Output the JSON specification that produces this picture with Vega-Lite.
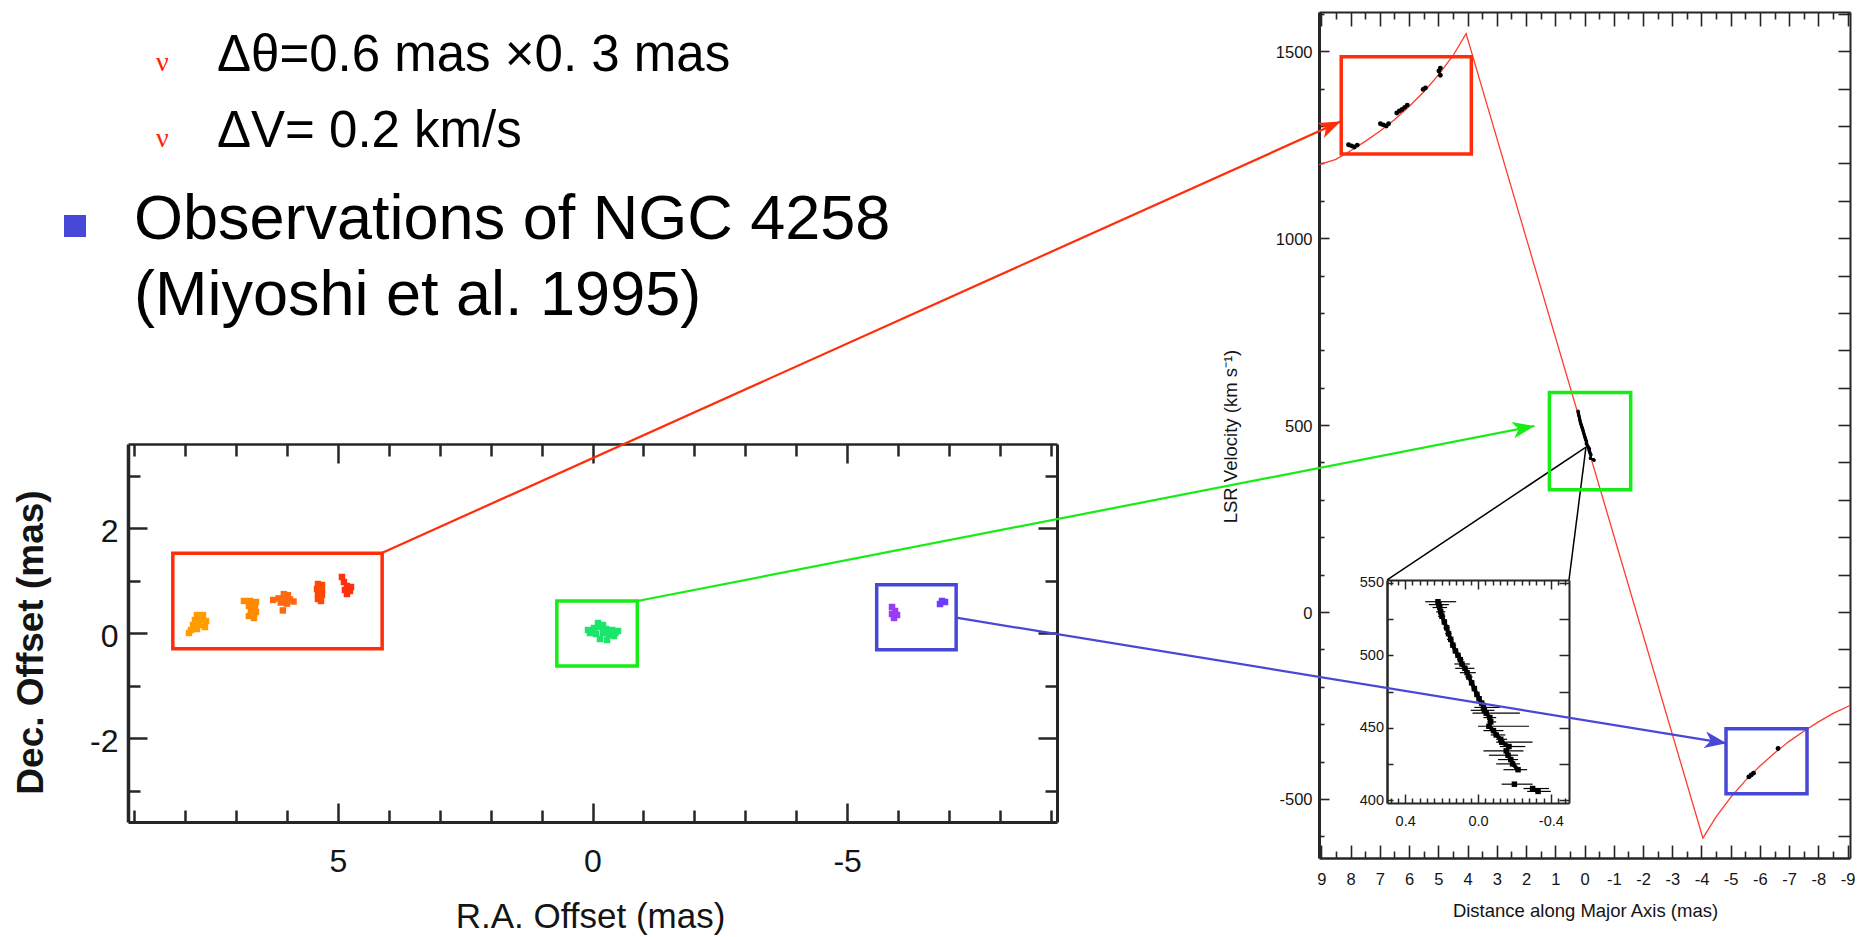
{
  "$schema": "https://vega.github.io/schema/vega-lite/v6.json",
  "width": 1863,
  "height": 937,
  "autosize": {"type": "none"},
  "padding": 0,
  "background": "white",
  "config": {
    "view": {"stroke": null},
    "axis": {"grid": false, "domainColor": "#262626", "tickColor": "#262626", "labelColor": "#141414", "titleColor": "#141414", "labelFont": "Liberation Sans", "titleFont": "Liberation Sans", "titleFontWeight": "normal", "labelFlush": false, "labelOverlap": false, "tickCap": "butt"},
    "text": {"font": "Liberation Sans"}
  },
  "resolve": {"scale": {"x": "independent", "y": "independent", "color": "independent"}, "axis": {"x": "independent", "y": "independent"}},
  "datasets": {
    "blobs": [
      {"feature": "r1", "ra": 7.766, "dec": 0.343}, {"feature": "r1", "ra": 7.648, "dec": 0.343}, {"feature": "r1", "ra": 7.805, "dec": 0.248}, {"feature": "r1", "ra": 7.687, "dec": 0.248}, {"feature": "r1", "ra": 7.589, "dec": 0.229}, {"feature": "r1", "ra": 7.844, "dec": 0.152}, {"feature": "r1", "ra": 7.726, "dec": 0.152}, {"feature": "r1", "ra": 7.609, "dec": 0.114}, {"feature": "r1", "ra": 7.884, "dec": 0.057}, {"feature": "r1", "ra": 7.766, "dec": 0.076}, {"feature": "r1", "ra": 7.923, "dec": 0.0},
      {"feature": "r2", "ra": 6.843, "dec": 0.61}, {"feature": "r2", "ra": 6.725, "dec": 0.61}, {"feature": "r2", "ra": 6.607, "dec": 0.59}, {"feature": "r2", "ra": 6.745, "dec": 0.514}, {"feature": "r2", "ra": 6.627, "dec": 0.495}, {"feature": "r2", "ra": 6.705, "dec": 0.419}, {"feature": "r2", "ra": 6.607, "dec": 0.4}, {"feature": "r2", "ra": 6.745, "dec": 0.324}, {"feature": "r2", "ra": 6.646, "dec": 0.286},
      {"feature": "r3", "ra": 6.27, "dec": 0.63}, {"feature": "r3", "ra": 6.16, "dec": 0.66}, {"feature": "r3", "ra": 6.06, "dec": 0.74}, {"feature": "r3", "ra": 5.98, "dec": 0.72}, {"feature": "r3", "ra": 6.05, "dec": 0.63}, {"feature": "r3", "ra": 5.94, "dec": 0.64}, {"feature": "r3", "ra": 5.87, "dec": 0.6}, {"feature": "r3", "ra": 6.12, "dec": 0.58}, {"feature": "r3", "ra": 6.0, "dec": 0.56}, {"feature": "r3", "ra": 6.08, "dec": 0.43},
      {"feature": "r4", "ra": 5.39, "dec": 0.933}, {"feature": "r4", "ra": 5.311, "dec": 0.914}, {"feature": "r4", "ra": 5.409, "dec": 0.838}, {"feature": "r4", "ra": 5.311, "dec": 0.819}, {"feature": "r4", "ra": 5.39, "dec": 0.743}, {"feature": "r4", "ra": 5.311, "dec": 0.724}, {"feature": "r4", "ra": 5.39, "dec": 0.648}, {"feature": "r4", "ra": 5.331, "dec": 0.61},
      {"feature": "r5", "ra": 4.919, "dec": 1.067}, {"feature": "r5", "ra": 4.88, "dec": 0.971}, {"feature": "r5", "ra": 4.821, "dec": 0.895}, {"feature": "r5", "ra": 4.742, "dec": 0.876}, {"feature": "r5", "ra": 4.86, "dec": 0.819}, {"feature": "r5", "ra": 4.762, "dec": 0.8}, {"feature": "r5", "ra": 4.821, "dec": 0.743},
      {"feature": "s", "ra": 0.088, "dec": 0.057}, {"feature": "s", "ra": -0.029, "dec": 0.095}, {"feature": "s", "ra": -0.147, "dec": 0.114}, {"feature": "s", "ra": -0.265, "dec": 0.076}, {"feature": "s", "ra": -0.383, "dec": 0.057}, {"feature": "s", "ra": -0.501, "dec": 0.038}, {"feature": "s", "ra": -0.069, "dec": -0.019}, {"feature": "s", "ra": -0.206, "dec": 0.0}, {"feature": "s", "ra": -0.324, "dec": -0.038}, {"feature": "s", "ra": -0.422, "dec": -0.057}, {"feature": "s", "ra": -0.147, "dec": -0.114}, {"feature": "s", "ra": -0.285, "dec": -0.133}, {"feature": "s", "ra": -0.108, "dec": 0.19}, {"feature": "s", "ra": -0.206, "dec": 0.152}, {"feature": "s", "ra": 0.05, "dec": 0.0}, {"feature": "s", "ra": -0.45, "dec": 0.0},
      {"feature": "b1", "ra": -5.881, "dec": 0.495}, {"feature": "b1", "ra": -5.94, "dec": 0.419}, {"feature": "b1", "ra": -5.881, "dec": 0.362}, {"feature": "b1", "ra": -5.979, "dec": 0.343}, {"feature": "b1", "ra": -5.92, "dec": 0.286},
      {"feature": "b2", "ra": -6.862, "dec": 0.61}, {"feature": "b2", "ra": -6.921, "dec": 0.59}, {"feature": "b2", "ra": -6.823, "dec": 0.552}
    ],
    "lboxes": [
      {"box": "redshifted", "x1": 4.13, "x2": 8.24, "y1": -0.3, "y2": 1.52},
      {"box": "systemic", "x1": -0.88, "x2": 0.7, "y1": -0.63, "y2": 0.61},
      {"box": "blueshifted", "x1": -7.14, "x2": -5.58, "y1": -0.32, "y2": 0.92}
    ],
    "rboxes": [
      {"box": "redshifted", "x1": 3.87, "x2": 8.32, "v1": 1225, "v2": 1485},
      {"box": "systemic", "x1": -1.58, "x2": 1.2, "v1": 327, "v2": 587},
      {"box": "blueshifted", "x1": -7.61, "x2": -4.84, "v1": -486, "v2": -312}
    ],
    "arrows": [
      {"box": "redshifted", "x1": 41.13, "v1": 158, "x2": 8.34, "v2": 1312},
      {"box": "systemic", "x1": 32.39, "v1": 29.5, "x2": 1.713, "v2": 497.6},
      {"box": "blueshifted", "x1": 21.49, "v1": -15.2, "x2": -4.86, "v2": -351.2}
    ],
    "links": [
      {"x1": 6.75, "v1": 86, "x2": -0.05, "v2": 441},
      {"x1": 0.53, "v1": 86, "x2": -0.05, "v2": 441}
    ],
    "curve": [
      {"r": 9.08, "v": 1197}, {"r": 8.5, "v": 1211}, {"r": 8.0, "v": 1234}, {"r": 7.5, "v": 1259}, {"r": 7.0, "v": 1286}, {"r": 6.5, "v": 1317}, {"r": 6.0, "v": 1352}, {"r": 5.5, "v": 1391}, {"r": 5.0, "v": 1436}, {"r": 4.5, "v": 1488}, {"r": 4.05, "v": 1547},
      {"r": -4.05, "v": -605}, {"r": -4.5, "v": -548}, {"r": -5.0, "v": -496}, {"r": -5.5, "v": -451}, {"r": -6.0, "v": -412}, {"r": -6.5, "v": -377}, {"r": -7.0, "v": -346}, {"r": -7.5, "v": -319}, {"r": -8.0, "v": -294}, {"r": -8.5, "v": -271}, {"r": -9.08, "v": -250}
    ],
    "hv": [
      {"r": 8.07, "v": 1250}, {"r": 7.97, "v": 1247}, {"r": 7.87, "v": 1244}, {"r": 7.77, "v": 1249},
      {"r": 6.98, "v": 1306}, {"r": 6.88, "v": 1303}, {"r": 6.78, "v": 1300}, {"r": 6.7, "v": 1306},
      {"r": 6.42, "v": 1335}, {"r": 6.33, "v": 1340}, {"r": 6.24, "v": 1344}, {"r": 6.15, "v": 1350}, {"r": 6.06, "v": 1356},
      {"r": 5.52, "v": 1398}, {"r": 5.44, "v": 1402},
      {"r": 4.98, "v": 1447}, {"r": 4.93, "v": 1455}, {"r": 4.93, "v": 1436},
      {"r": -5.62, "v": -441}, {"r": -5.7, "v": -436}, {"r": -5.78, "v": -431}, {"r": -6.62, "v": -365}
    ],
    "sys": [
      {"seg": "a", "v": 537, "x": 0.22, "lo": 0.29, "hi": 0.12},
      {"seg": "a", "v": 535, "x": 0.215, "lo": 0.27, "hi": 0.16},
      {"seg": "a", "v": 533, "x": 0.21, "lo": 0.25, "hi": 0.17},
      {"seg": "a", "v": 530, "x": 0.205, "lo": 0.23, "hi": 0.18},
      {"seg": "a", "v": 527, "x": 0.198, "lo": 0.22, "hi": 0.18},
      {"seg": "a", "v": 523, "x": 0.185, "lo": 0.2, "hi": 0.17},
      {"seg": "a", "v": 519, "x": 0.172, "lo": 0.19, "hi": 0.155},
      {"seg": "a", "v": 515, "x": 0.162, "lo": 0.18, "hi": 0.145},
      {"seg": "a", "v": 511, "x": 0.15, "lo": 0.17, "hi": 0.135},
      {"seg": "a", "v": 507, "x": 0.138, "lo": 0.155, "hi": 0.12},
      {"seg": "a", "v": 503, "x": 0.124, "lo": 0.14, "hi": 0.108},
      {"seg": "a", "v": 500, "x": 0.11, "lo": 0.125, "hi": 0.095},
      {"seg": "a", "v": 497, "x": 0.097, "lo": 0.115, "hi": 0.08},
      {"seg": "a", "v": 494, "x": 0.088, "lo": 0.13, "hi": 0.045},
      {"seg": "a", "v": 491, "x": 0.072, "lo": 0.125, "hi": 0.02},
      {"seg": "a", "v": 488, "x": 0.06, "lo": 0.1, "hi": 0.012},
      {"seg": "a", "v": 485, "x": 0.05, "lo": 0.07, "hi": 0.03},
      {"seg": "a", "v": 481, "x": 0.035, "lo": 0.05, "hi": 0.02},
      {"seg": "a", "v": 477, "x": 0.02, "lo": 0.035, "hi": 0.005},
      {"seg": "a", "v": 473, "x": 0.006, "lo": 0.02, "hi": -0.008},
      {"seg": "a", "v": 470, "x": -0.006, "lo": 0.008, "hi": -0.02},
      {"seg": "a", "v": 467, "x": -0.02, "lo": 0.0, "hi": -0.04},
      {"seg": "a", "v": 464, "x": -0.03, "lo": 0.02, "hi": -0.12},
      {"seg": "a", "v": 462, "x": -0.035, "lo": 0.04, "hi": -0.09},
      {"seg": "a", "v": 460, "x": -0.045, "lo": 0.03, "hi": -0.23},
      {"seg": "a", "v": 457, "x": -0.065, "lo": -0.03, "hi": -0.1},
      {"seg": "a", "v": 454, "x": -0.07, "lo": -0.05, "hi": -0.1},
      {"seg": "a", "v": 451, "x": -0.06, "lo": 0.0, "hi": -0.28},
      {"seg": "a", "v": 448, "x": -0.085, "lo": -0.03, "hi": -0.14},
      {"seg": "a", "v": 445, "x": -0.1, "lo": -0.07, "hi": -0.15},
      {"seg": "a", "v": 442, "x": -0.125, "lo": -0.1, "hi": -0.16},
      {"seg": "a", "v": 440, "x": -0.13, "lo": -0.1, "hi": -0.3},
      {"seg": "a", "v": 437, "x": -0.17, "lo": -0.12, "hi": -0.26},
      {"seg": "a", "v": 434, "x": -0.155, "lo": -0.03, "hi": -0.25},
      {"seg": "a", "v": 431, "x": -0.165, "lo": -0.06, "hi": -0.22},
      {"seg": "a", "v": 428, "x": -0.18, "lo": -0.11, "hi": -0.22},
      {"seg": "a", "v": 425, "x": -0.19, "lo": -0.1, "hi": -0.23},
      {"seg": "a", "v": 421, "x": -0.22, "lo": -0.14, "hi": -0.27},
      {"seg": "b", "v": 411, "x": -0.2, "lo": -0.13, "hi": -0.3},
      {"seg": "c", "v": 408, "x": -0.3, "lo": -0.25, "hi": -0.39},
      {"seg": "c", "v": 406, "x": -0.33, "lo": -0.27, "hi": -0.4}
    ]
  },
  "layer": [
    {"data": {"values": [{}]}, "mark": {"type": "text", "text": "ν", "align": "left", "baseline": "alphabetic", "fontSize": 28, "font": "Liberation Serif", "color": "#ff2200"},
     "encoding": {"x": {"datum": 8.571, "type": "quantitative", "scale": {"domain": [-9.12, 9.12], "range": [1057, 128], "nice": false, "zero": false}, "axis": null}, "y": {"datum": 10.705, "type": "quantitative", "scale": {"domain": [-3.6, 3.6], "range": [822, 444], "nice": false, "zero": false}, "axis": null}}},
    {"data": {"values": [{}]}, "mark": {"type": "text", "text": "Δθ=0.6 mas ×0. 3 mas", "align": "left", "baseline": "alphabetic", "fontSize": 51, "color": "#000000"},
     "encoding": {"x": {"datum": 7.373, "type": "quantitative", "scale": {"domain": [-9.12, 9.12], "range": [1057, 128], "nice": false, "zero": false}, "axis": null}, "y": {"datum": 10.71, "type": "quantitative", "scale": {"domain": [-3.6, 3.6], "range": [822, 444], "nice": false, "zero": false}, "axis": null}}},
    {"data": {"values": [{}]}, "mark": {"type": "text", "text": "ν", "align": "left", "baseline": "alphabetic", "fontSize": 28, "font": "Liberation Serif", "color": "#ff2200"},
     "encoding": {"x": {"datum": 8.571, "type": "quantitative", "scale": {"domain": [-9.12, 9.12], "range": [1057, 128], "nice": false, "zero": false}, "axis": null}, "y": {"datum": 9.257, "type": "quantitative", "scale": {"domain": [-3.6, 3.6], "range": [822, 444], "nice": false, "zero": false}, "axis": null}}},
    {"data": {"values": [{}]}, "mark": {"type": "text", "text": "ΔV= 0.2 km/s", "align": "left", "baseline": "alphabetic", "fontSize": 51, "color": "#000000"},
     "encoding": {"x": {"datum": 7.373, "type": "quantitative", "scale": {"domain": [-9.12, 9.12], "range": [1057, 128], "nice": false, "zero": false}, "axis": null}, "y": {"datum": 9.263, "type": "quantitative", "scale": {"domain": [-3.6, 3.6], "range": [822, 444], "nice": false, "zero": false}, "axis": null}}},
    {"data": {"values": [{}]}, "mark": {"type": "point", "shape": "square", "size": 484, "filled": true, "opacity": 1, "color": "#4747d8", "strokeWidth": 0},
     "encoding": {"x": {"datum": 10.161, "type": "quantitative", "scale": {"domain": [-9.12, 9.12], "range": [1057, 128], "nice": false, "zero": false}, "axis": null}, "y": {"datum": 7.752, "type": "quantitative", "scale": {"domain": [-3.6, 3.6], "range": [822, 444], "nice": false, "zero": false}, "axis": null}}},
    {"data": {"values": [{}]}, "mark": {"type": "text", "text": "Observations of NGC 4258", "align": "left", "baseline": "alphabetic", "fontSize": 63, "color": "#000000"},
     "encoding": {"x": {"datum": 9.003, "type": "quantitative", "scale": {"domain": [-9.12, 9.12], "range": [1057, 128], "nice": false, "zero": false}, "axis": null}, "y": {"datum": 7.499, "type": "quantitative", "scale": {"domain": [-3.6, 3.6], "range": [822, 444], "nice": false, "zero": false}, "axis": null}}},
    {"data": {"values": [{}]}, "mark": {"type": "text", "text": "(Miyoshi et al. 1995)", "align": "left", "baseline": "alphabetic", "fontSize": 63, "color": "#000000"},
     "encoding": {"x": {"datum": 9.003, "type": "quantitative", "scale": {"domain": [-9.12, 9.12], "range": [1057, 128], "nice": false, "zero": false}, "axis": null}, "y": {"datum": 6.057, "type": "quantitative", "scale": {"domain": [-3.6, 3.6], "range": [822, 444], "nice": false, "zero": false}, "axis": null}}},

    {"data": {"name": "blobs"}, "mark": {"type": "point", "shape": "square", "size": 42, "filled": true, "opacity": 1, "strokeWidth": 0},
     "encoding": {"x": {"field": "ra", "type": "quantitative", "scale": {"domain": [-9.12, 9.12], "range": [1057, 128], "nice": false, "zero": false}, "axis": null}, "y": {"field": "dec", "type": "quantitative", "scale": {"domain": [-3.6, 3.6], "range": [822, 444], "nice": false, "zero": false}, "axis": null},
      "color": {"field": "feature", "type": "nominal", "scale": {"domain": ["r1", "r2", "r3", "r4", "r5", "s", "b1", "b2"], "range": ["#ff9d00", "#ff8a00", "#ff6a10", "#ff4800", "#ff3010", "#19e66b", "#9b3cf5", "#6f3cff"]}, "legend": null}}},
    {"data": {"name": "lboxes"}, "mark": {"type": "rect", "filled": false, "strokeWidth": 3.5},
     "encoding": {"x": {"field": "x1", "type": "quantitative", "scale": {"domain": [-9.12, 9.12], "range": [1057, 128], "nice": false, "zero": false}, "axis": null}, "x2": {"field": "x2"}, "y": {"field": "y1", "type": "quantitative", "scale": {"domain": [-3.6, 3.6], "range": [822, 444], "nice": false, "zero": false}, "axis": null}, "y2": {"field": "y2"},
      "color": {"field": "box", "type": "nominal", "scale": {"domain": ["redshifted", "systemic", "blueshifted"], "range": ["#ff2d0a", "#16ec16", "#4848d6"]}, "legend": null}}},

    {"data": {"values": [{}]}, "mark": {"type": "point", "opacity": 0},
     "encoding": {"x": {"datum": 0, "type": "quantitative", "scale": {"domain": [-9.12, 9.12], "range": [1057, 128], "nice": false, "zero": false}, "axis": {"orient": "bottom", "offset": -115, "values": [-5, 0, 5], "tickSize": -19, "tickWidth": 2.5, "labels": false, "domain": true, "domainWidth": 3, "title": null}}, "y": {"datum": 0, "type": "quantitative", "scale": {"domain": [-3.6, 3.6], "range": [822, 444], "nice": false, "zero": false}, "axis": null}}},
    {"data": {"values": [{}]}, "mark": {"type": "point", "opacity": 0},
     "encoding": {"x": {"datum": 0, "type": "quantitative", "scale": {"domain": [-9.12, 9.12], "range": [1057, 128], "nice": false, "zero": false}, "axis": {"orient": "bottom", "offset": -115, "values": [-9, -8, -7, -6, -4, -3, -2, -1, 1, 2, 3, 4, 6, 7, 8, 9], "tickSize": -12, "tickWidth": 2.5, "labels": false, "domain": false, "title": null}}, "y": {"datum": 0, "type": "quantitative", "scale": {"domain": [-3.6, 3.6], "range": [822, 444], "nice": false, "zero": false}, "axis": null}}},
    {"data": {"values": [{}]}, "mark": {"type": "point", "opacity": 0},
     "encoding": {"x": {"datum": 0, "type": "quantitative", "scale": {"domain": [-9.12, 9.12], "range": [1057, 128], "nice": false, "zero": false}, "axis": {"orient": "bottom", "offset": -115, "values": [-5, 0, 5], "ticks": false, "domain": false, "labelPadding": 24, "labelFontSize": 32, "labelExpr": "toString(datum.value)", "title": "R.A. Offset (mas)", "titleFontSize": 35, "titleX": 590, "titleY": 105, "titleBaseline": "alphabetic", "titleAlign": "center"}}, "y": {"datum": 0, "type": "quantitative", "scale": {"domain": [-3.6, 3.6], "range": [822, 444], "nice": false, "zero": false}, "axis": null}}},
    {"data": {"values": [{}]}, "mark": {"type": "point", "opacity": 0},
     "encoding": {"x": {"datum": 0, "type": "quantitative", "scale": {"domain": [-9.12, 9.12], "range": [1057, 128], "nice": false, "zero": false}, "axis": {"orient": "top", "offset": -444, "values": [-5, 0, 5], "tickSize": -19, "tickWidth": 2.5, "labels": false, "domain": true, "domainWidth": 2.5, "title": null}}, "y": {"datum": 0, "type": "quantitative", "scale": {"domain": [-3.6, 3.6], "range": [822, 444], "nice": false, "zero": false}, "axis": null}}},
    {"data": {"values": [{}]}, "mark": {"type": "point", "opacity": 0},
     "encoding": {"x": {"datum": 0, "type": "quantitative", "scale": {"domain": [-9.12, 9.12], "range": [1057, 128], "nice": false, "zero": false}, "axis": {"orient": "top", "offset": -444, "values": [-9, -8, -7, -6, -4, -3, -2, -1, 1, 2, 3, 4, 6, 7, 8, 9], "tickSize": -12, "tickWidth": 2.5, "labels": false, "domain": false, "title": null}}, "y": {"datum": 0, "type": "quantitative", "scale": {"domain": [-3.6, 3.6], "range": [822, 444], "nice": false, "zero": false}, "axis": null}}},
    {"data": {"values": [{}]}, "mark": {"type": "point", "opacity": 0},
     "encoding": {"x": {"datum": 0, "type": "quantitative", "scale": {"domain": [-9.12, 9.12], "range": [1057, 128], "nice": false, "zero": false}, "axis": null}, "y": {"datum": 0, "type": "quantitative", "scale": {"domain": [-3.6, 3.6], "range": [822, 444], "nice": false, "zero": false}, "axis": {"orient": "left", "offset": -128, "values": [-2, 0, 2], "tickSize": -19, "tickWidth": 2.5, "labels": false, "domain": true, "domainWidth": 3.5, "title": null}}}},
    {"data": {"values": [{}]}, "mark": {"type": "point", "opacity": 0},
     "encoding": {"x": {"datum": 0, "type": "quantitative", "scale": {"domain": [-9.12, 9.12], "range": [1057, 128], "nice": false, "zero": false}, "axis": null}, "y": {"datum": 0, "type": "quantitative", "scale": {"domain": [-3.6, 3.6], "range": [822, 444], "nice": false, "zero": false}, "axis": {"orient": "left", "offset": -128, "values": [-3, -1, 1, 3], "tickSize": -12, "tickWidth": 2.5, "labels": false, "domain": false, "title": null}}}},
    {"data": {"values": [{}]}, "mark": {"type": "point", "opacity": 0},
     "encoding": {"x": {"datum": 0, "type": "quantitative", "scale": {"domain": [-9.12, 9.12], "range": [1057, 128], "nice": false, "zero": false}, "axis": null}, "y": {"datum": 0, "type": "quantitative", "scale": {"domain": [-3.6, 3.6], "range": [822, 444], "nice": false, "zero": false}, "axis": {"orient": "left", "offset": -128, "values": [-2, 0, 2], "ticks": false, "domain": false, "labelPadding": 10, "labelFontSize": 32, "labelOffset": 3, "labelExpr": "toString(datum.value)", "title": "Dec. Offset (mas)", "titleFontSize": 37, "titleFontWeight": "bold", "titleX": -97, "titleY": 642, "titleAngle": 270, "titleBaseline": "middle", "titleAlign": "center"}}}},
    {"data": {"values": [{}]}, "mark": {"type": "point", "opacity": 0},
     "encoding": {"x": {"datum": 0, "type": "quantitative", "scale": {"domain": [-9.12, 9.12], "range": [1057, 128], "nice": false, "zero": false}, "axis": null}, "y": {"datum": 0, "type": "quantitative", "scale": {"domain": [-3.6, 3.6], "range": [822, 444], "nice": false, "zero": false}, "axis": {"orient": "right", "offset": -806, "values": [-2, 0, 2], "tickSize": -19, "tickWidth": 2.5, "labels": false, "domain": true, "domainWidth": 3, "title": null}}}},
    {"data": {"values": [{}]}, "mark": {"type": "point", "opacity": 0},
     "encoding": {"x": {"datum": 0, "type": "quantitative", "scale": {"domain": [-9.12, 9.12], "range": [1057, 128], "nice": false, "zero": false}, "axis": null}, "y": {"datum": 0, "type": "quantitative", "scale": {"domain": [-3.6, 3.6], "range": [822, 444], "nice": false, "zero": false}, "axis": {"orient": "right", "offset": -806, "values": [-3, -1, 1, 3], "tickSize": -12, "tickWidth": 2.5, "labels": false, "domain": false, "title": null}}}},

    {"data": {"name": "curve"}, "mark": {"type": "line", "color": "#ff3b2b", "strokeWidth": 1.3},
     "encoding": {"x": {"field": "r", "type": "quantitative", "scale": {"domain": [-9.08, 9.08], "range": [1850, 1319], "nice": false, "zero": false}, "axis": null}, "y": {"field": "v", "type": "quantitative", "scale": {"domain": [-658, 1605], "range": [858, 12], "nice": false, "zero": false}, "axis": null}}},
    {"data": {"name": "hv"}, "mark": {"type": "point", "shape": "circle", "size": 24, "filled": true, "opacity": 1, "color": "#000000", "strokeWidth": 0},
     "encoding": {"x": {"field": "r", "type": "quantitative", "scale": {"domain": [-9.08, 9.08], "range": [1850, 1319], "nice": false, "zero": false}, "axis": null}, "y": {"field": "v", "type": "quantitative", "scale": {"domain": [-658, 1605], "range": [858, 12], "nice": false, "zero": false}, "axis": null}}},
    {"data": {"name": "sys"}, "mark": {"type": "line", "color": "#000000", "strokeWidth": 2.5},
     "encoding": {"x": {"field": "x", "type": "quantitative", "scale": {"domain": [-9.08, 9.08], "range": [1850, 1319], "nice": false, "zero": false}, "axis": null}, "y": {"field": "v", "type": "quantitative", "scale": {"domain": [-658, 1605], "range": [858, 12], "nice": false, "zero": false}, "axis": null}, "order": {"field": "v", "type": "quantitative"}}},
    {"data": {"name": "sys"}, "mark": {"type": "point", "shape": "circle", "size": 12, "filled": true, "opacity": 1, "color": "#000000", "strokeWidth": 0},
     "encoding": {"x": {"field": "x", "type": "quantitative", "scale": {"domain": [-9.08, 9.08], "range": [1850, 1319], "nice": false, "zero": false}, "axis": null}, "y": {"field": "v", "type": "quantitative", "scale": {"domain": [-658, 1605], "range": [858, 12], "nice": false, "zero": false}, "axis": null}}},
    {"data": {"name": "links"}, "mark": {"type": "rule", "color": "#000000", "strokeWidth": 1.5},
     "encoding": {"x": {"field": "x1", "type": "quantitative", "scale": {"domain": [-9.08, 9.08], "range": [1850, 1319], "nice": false, "zero": false}, "axis": null}, "x2": {"field": "x2"}, "y": {"field": "v1", "type": "quantitative", "scale": {"domain": [-658, 1605], "range": [858, 12], "nice": false, "zero": false}, "axis": null}, "y2": {"field": "v2"}}},
    {"data": {"name": "rboxes"}, "mark": {"type": "rect", "filled": false, "strokeWidth": 3.5},
     "encoding": {"x": {"field": "x1", "type": "quantitative", "scale": {"domain": [-9.08, 9.08], "range": [1850, 1319], "nice": false, "zero": false}, "axis": null}, "x2": {"field": "x2"}, "y": {"field": "v1", "type": "quantitative", "scale": {"domain": [-658, 1605], "range": [858, 12], "nice": false, "zero": false}, "axis": null}, "y2": {"field": "v2"},
      "color": {"field": "box", "type": "nominal", "scale": {"domain": ["redshifted", "systemic", "blueshifted"], "range": ["#ff2d0a", "#16ec16", "#4848d6"]}, "legend": null}}},

    {"data": {"values": [{}]}, "mark": {"type": "point", "opacity": 0},
     "encoding": {"x": {"datum": 0, "type": "quantitative", "scale": {"domain": [-9.08, 9.08], "range": [1850, 1319], "nice": false, "zero": false}, "axis": {"orient": "bottom", "offset": -79, "values": [-9, -8, -7, -6, -5, -4, -3, -2, -1, 0, 1, 2, 3, 4, 5, 6, 7, 8, 9], "tickSize": -13, "tickWidth": 1.6, "labels": false, "domain": true, "domainWidth": 2.5, "title": null}}, "y": {"datum": 0, "type": "quantitative", "scale": {"domain": [-658, 1605], "range": [858, 12], "nice": false, "zero": false}, "axis": null}}},
    {"data": {"values": [{}]}, "mark": {"type": "point", "opacity": 0},
     "encoding": {"x": {"datum": 0, "type": "quantitative", "scale": {"domain": [-9.08, 9.08], "range": [1850, 1319], "nice": false, "zero": false}, "axis": {"orient": "bottom", "offset": -79, "values": [-8.5, -7.5, -6.5, -5.5, -4.5, -3.5, -2.5, -1.5, -0.5, 0.5, 1.5, 2.5, 3.5, 4.5, 5.5, 6.5, 7.5, 8.5], "tickSize": -7, "tickWidth": 1.6, "labels": false, "domain": false, "title": null}}, "y": {"datum": 0, "type": "quantitative", "scale": {"domain": [-658, 1605], "range": [858, 12], "nice": false, "zero": false}, "axis": null}}},
    {"data": {"values": [{}]}, "mark": {"type": "point", "opacity": 0},
     "encoding": {"x": {"datum": 0, "type": "quantitative", "scale": {"domain": [-9.08, 9.08], "range": [1850, 1319], "nice": false, "zero": false}, "axis": {"orient": "bottom", "offset": -79, "values": [-9, -8, -7, -6, -5, -4, -3, -2, -1, 0, 1, 2, 3, 4, 5, 6, 7, 8, 9], "ticks": false, "domain": false, "labelPadding": 13, "labelFontSize": 16.5, "labelExpr": "toString(datum.value)", "title": "Distance along Major Axis (mas)", "titleFontSize": 18.5, "titleX": 1585, "titleY": 58, "titleBaseline": "alphabetic", "titleAlign": "center"}}, "y": {"datum": 0, "type": "quantitative", "scale": {"domain": [-658, 1605], "range": [858, 12], "nice": false, "zero": false}, "axis": null}}},
    {"data": {"values": [{}]}, "mark": {"type": "point", "opacity": 0},
     "encoding": {"x": {"datum": 0, "type": "quantitative", "scale": {"domain": [-9.08, 9.08], "range": [1850, 1319], "nice": false, "zero": false}, "axis": {"orient": "top", "offset": -12, "values": [-9, -8, -7, -6, -5, -4, -3, -2, -1, 0, 1, 2, 3, 4, 5, 6, 7, 8, 9], "tickSize": -14, "tickWidth": 1.6, "labels": false, "domain": true, "domainWidth": 2, "title": null}}, "y": {"datum": 0, "type": "quantitative", "scale": {"domain": [-658, 1605], "range": [858, 12], "nice": false, "zero": false}, "axis": null}}},
    {"data": {"values": [{}]}, "mark": {"type": "point", "opacity": 0},
     "encoding": {"x": {"datum": 0, "type": "quantitative", "scale": {"domain": [-9.08, 9.08], "range": [1850, 1319], "nice": false, "zero": false}, "axis": {"orient": "top", "offset": -12, "values": [-8.5, -7.5, -6.5, -5.5, -4.5, -3.5, -2.5, -1.5, -0.5, 0.5, 1.5, 2.5, 3.5, 4.5, 5.5, 6.5, 7.5, 8.5], "tickSize": -7, "tickWidth": 1.6, "labels": false, "domain": false, "title": null}}, "y": {"datum": 0, "type": "quantitative", "scale": {"domain": [-658, 1605], "range": [858, 12], "nice": false, "zero": false}, "axis": null}}},
    {"data": {"values": [{}]}, "mark": {"type": "point", "opacity": 0},
     "encoding": {"x": {"datum": 0, "type": "quantitative", "scale": {"domain": [-9.08, 9.08], "range": [1850, 1319], "nice": false, "zero": false}, "axis": null}, "y": {"datum": 0, "type": "quantitative", "scale": {"domain": [-658, 1605], "range": [858, 12], "nice": false, "zero": false}, "axis": {"orient": "left", "offset": -1319, "values": [-500, 0, 500, 1000, 1500], "tickSize": -10, "tickWidth": 1.6, "labels": false, "domain": true, "domainWidth": 3, "title": null}}}},
    {"data": {"values": [{}]}, "mark": {"type": "point", "opacity": 0},
     "encoding": {"x": {"datum": 0, "type": "quantitative", "scale": {"domain": [-9.08, 9.08], "range": [1850, 1319], "nice": false, "zero": false}, "axis": null}, "y": {"datum": 0, "type": "quantitative", "scale": {"domain": [-658, 1605], "range": [858, 12], "nice": false, "zero": false}, "axis": {"orient": "left", "offset": -1319, "values": [-600, -400, -300, -200, -100, 100, 200, 300, 400, 600, 700, 800, 900, 1100, 1200, 1300, 1400, 1600], "tickSize": -5, "tickWidth": 1.6, "labels": false, "domain": false, "title": null}}}},
    {"data": {"values": [{}]}, "mark": {"type": "point", "opacity": 0},
     "encoding": {"x": {"datum": 0, "type": "quantitative", "scale": {"domain": [-9.08, 9.08], "range": [1850, 1319], "nice": false, "zero": false}, "axis": null}, "y": {"datum": 0, "type": "quantitative", "scale": {"domain": [-658, 1605], "range": [858, 12], "nice": false, "zero": false}, "axis": {"orient": "left", "offset": -1319, "values": [-500, 0, 500, 1000, 1500], "ticks": false, "domain": false, "labelPadding": 7, "labelFontSize": 16.5, "labelOffset": 1, "labelExpr": "toString(datum.value)", "title": "LSR Velocity (km s⁻¹)", "titleFontSize": 18.5, "titleX": -89, "titleY": 436, "titleAngle": 270, "titleBaseline": "middle", "titleAlign": "center"}}}},
    {"data": {"values": [{}]}, "mark": {"type": "point", "opacity": 0},
     "encoding": {"x": {"datum": 0, "type": "quantitative", "scale": {"domain": [-9.08, 9.08], "range": [1850, 1319], "nice": false, "zero": false}, "axis": null}, "y": {"datum": 0, "type": "quantitative", "scale": {"domain": [-658, 1605], "range": [858, 12], "nice": false, "zero": false}, "axis": {"orient": "right", "offset": -13, "values": [-600, -500, -400, -300, -200, -100, 0, 100, 200, 300, 400, 500, 600, 700, 800, 900, 1000, 1100, 1200, 1300, 1400, 1500, 1600], "tickSize": -12, "tickWidth": 1.6, "labels": false, "domain": true, "domainWidth": 2, "title": null}}}},

    {"data": {"name": "sys"}, "mark": {"type": "rule", "color": "#000000", "strokeWidth": 1.2},
     "encoding": {"x": {"field": "lo", "type": "quantitative", "scale": {"domain": [-0.5, 0.5], "range": [1569, 1387], "nice": false, "zero": false}, "axis": null}, "x2": {"field": "hi"}, "y": {"field": "v", "type": "quantitative", "scale": {"domain": [398, 552], "range": [803, 580], "nice": false, "zero": false}, "axis": null}}},
    {"data": {"name": "sys"}, "mark": {"type": "line", "color": "#000000", "strokeWidth": 4},
     "encoding": {"x": {"field": "x", "type": "quantitative", "scale": {"domain": [-0.5, 0.5], "range": [1569, 1387], "nice": false, "zero": false}, "axis": null}, "y": {"field": "v", "type": "quantitative", "scale": {"domain": [398, 552], "range": [803, 580], "nice": false, "zero": false}, "axis": null}, "order": {"field": "v", "type": "quantitative"}, "detail": {"field": "seg", "type": "nominal"}}},
    {"data": {"name": "sys"}, "mark": {"type": "point", "shape": "square", "size": 30, "filled": true, "opacity": 1, "color": "#000000", "strokeWidth": 0},
     "encoding": {"x": {"field": "x", "type": "quantitative", "scale": {"domain": [-0.5, 0.5], "range": [1569, 1387], "nice": false, "zero": false}, "axis": null}, "y": {"field": "v", "type": "quantitative", "scale": {"domain": [398, 552], "range": [803, 580], "nice": false, "zero": false}, "axis": null}}},

    {"data": {"values": [{}]}, "mark": {"type": "point", "opacity": 0},
     "encoding": {"x": {"datum": 0, "type": "quantitative", "scale": {"domain": [-0.5, 0.5], "range": [1569, 1387], "nice": false, "zero": false}, "axis": {"orient": "bottom", "offset": -134, "values": [-0.4, 0, 0.4], "tickSize": -9, "tickWidth": 1.5, "labels": false, "domain": true, "domainWidth": 2, "title": null}}, "y": {"datum": 450, "type": "quantitative", "scale": {"domain": [398, 552], "range": [803, 580], "nice": false, "zero": false}, "axis": null}}},
    {"data": {"values": [{}]}, "mark": {"type": "point", "opacity": 0},
     "encoding": {"x": {"datum": 0, "type": "quantitative", "scale": {"domain": [-0.5, 0.5], "range": [1569, 1387], "nice": false, "zero": false}, "axis": {"orient": "bottom", "offset": -134, "values": [-0.48, -0.44, -0.36, -0.32, -0.28, -0.24, -0.2, -0.16, -0.12, -0.08, -0.04, 0.04, 0.08, 0.12, 0.16, 0.2, 0.24, 0.28, 0.32, 0.36, 0.44, 0.48], "tickSize": -5, "tickWidth": 1.5, "labels": false, "domain": false, "title": null}}, "y": {"datum": 450, "type": "quantitative", "scale": {"domain": [398, 552], "range": [803, 580], "nice": false, "zero": false}, "axis": null}}},
    {"data": {"values": [{}]}, "mark": {"type": "point", "opacity": 0},
     "encoding": {"x": {"datum": 0, "type": "quantitative", "scale": {"domain": [-0.5, 0.5], "range": [1569, 1387], "nice": false, "zero": false}, "axis": {"orient": "bottom", "offset": -134, "values": [-0.4, 0, 0.4], "ticks": false, "domain": false, "labelPadding": 11, "labelFontSize": 14.5, "labelExpr": "datum.value == 0 ? '0.0' : toString(datum.value)", "title": null}}, "y": {"datum": 450, "type": "quantitative", "scale": {"domain": [398, 552], "range": [803, 580], "nice": false, "zero": false}, "axis": null}}},
    {"data": {"values": [{}]}, "mark": {"type": "point", "opacity": 0},
     "encoding": {"x": {"datum": 0, "type": "quantitative", "scale": {"domain": [-0.5, 0.5], "range": [1569, 1387], "nice": false, "zero": false}, "axis": {"orient": "top", "offset": -580, "values": [-0.4, 0, 0.4], "tickSize": -9, "tickWidth": 1.5, "labels": false, "domain": true, "domainWidth": 2, "title": null}}, "y": {"datum": 450, "type": "quantitative", "scale": {"domain": [398, 552], "range": [803, 580], "nice": false, "zero": false}, "axis": null}}},
    {"data": {"values": [{}]}, "mark": {"type": "point", "opacity": 0},
     "encoding": {"x": {"datum": 0, "type": "quantitative", "scale": {"domain": [-0.5, 0.5], "range": [1569, 1387], "nice": false, "zero": false}, "axis": {"orient": "top", "offset": -580, "values": [-0.48, -0.44, -0.36, -0.32, -0.28, -0.24, -0.2, -0.16, -0.12, -0.08, -0.04, 0.04, 0.08, 0.12, 0.16, 0.2, 0.24, 0.28, 0.32, 0.36, 0.44, 0.48], "tickSize": -5, "tickWidth": 1.5, "labels": false, "domain": false, "title": null}}, "y": {"datum": 450, "type": "quantitative", "scale": {"domain": [398, 552], "range": [803, 580], "nice": false, "zero": false}, "axis": null}}},
    {"data": {"values": [{}]}, "mark": {"type": "point", "opacity": 0},
     "encoding": {"x": {"datum": 0, "type": "quantitative", "scale": {"domain": [-0.5, 0.5], "range": [1569, 1387], "nice": false, "zero": false}, "axis": null}, "y": {"datum": 450, "type": "quantitative", "scale": {"domain": [398, 552], "range": [803, 580], "nice": false, "zero": false}, "axis": {"orient": "left", "offset": -1387, "values": [400, 425, 450, 475, 500, 525, 550], "tickSize": -6, "tickWidth": 1.5, "labels": false, "domain": true, "domainWidth": 2.5, "title": null}}}},
    {"data": {"values": [{}]}, "mark": {"type": "point", "opacity": 0},
     "encoding": {"x": {"datum": 0, "type": "quantitative", "scale": {"domain": [-0.5, 0.5], "range": [1569, 1387], "nice": false, "zero": false}, "axis": null}, "y": {"datum": 450, "type": "quantitative", "scale": {"domain": [398, 552], "range": [803, 580], "nice": false, "zero": false}, "axis": {"orient": "left", "offset": -1387, "values": [400, 450, 500, 550], "ticks": false, "domain": false, "labelPadding": 3.5, "labelFontSize": 14.5, "labelExpr": "toString(datum.value)", "title": null}}}},
    {"data": {"values": [{}]}, "mark": {"type": "point", "opacity": 0},
     "encoding": {"x": {"datum": 0, "type": "quantitative", "scale": {"domain": [-0.5, 0.5], "range": [1569, 1387], "nice": false, "zero": false}, "axis": null}, "y": {"datum": 450, "type": "quantitative", "scale": {"domain": [398, 552], "range": [803, 580], "nice": false, "zero": false}, "axis": {"orient": "right", "offset": -294, "values": [400, 425, 450, 475, 500, 525, 550], "tickSize": -10, "tickWidth": 1.5, "labels": false, "domain": true, "domainWidth": 2, "title": null}}}},

    {"data": {"name": "arrows"}, "mark": {"type": "rule", "strokeWidth": 2.2},
     "encoding": {"x": {"field": "x1", "type": "quantitative", "scale": {"domain": [-9.08, 9.08], "range": [1850, 1319], "nice": false, "zero": false}, "axis": null}, "x2": {"field": "x2"}, "y": {"field": "v1", "type": "quantitative", "scale": {"domain": [-658, 1605], "range": [858, 12], "nice": false, "zero": false}, "axis": null}, "y2": {"field": "v2"},
      "color": {"field": "box", "type": "nominal", "scale": {"domain": ["redshifted", "systemic", "blueshifted"], "range": ["#ff2d0a", "#16ec16", "#4848d6"]}, "legend": null}}},
    {"data": {"name": "arrows"}, "transform": [{"filter": "datum.box === 'redshifted'"}], "mark": {"type": "point", "shape": "M0,0L-2,-0.75L-1.45,0L-2,0.75Z", "size": 484, "filled": true, "opacity": 1, "color": "#ff2d0a", "strokeWidth": 0, "angle": -24.2},
     "encoding": {"x": {"field": "x2", "type": "quantitative", "scale": {"domain": [-9.08, 9.08], "range": [1850, 1319], "nice": false, "zero": false}, "axis": null}, "y": {"field": "v2", "type": "quantitative", "scale": {"domain": [-658, 1605], "range": [858, 12], "nice": false, "zero": false}, "axis": null}}},
    {"data": {"name": "arrows"}, "transform": [{"filter": "datum.box === 'systemic'"}], "mark": {"type": "point", "shape": "M0,0L-2,-0.75L-1.45,0L-2,0.75Z", "size": 484, "filled": true, "opacity": 1, "color": "#16ec16", "strokeWidth": 0, "angle": -11.0},
     "encoding": {"x": {"field": "x2", "type": "quantitative", "scale": {"domain": [-9.08, 9.08], "range": [1850, 1319], "nice": false, "zero": false}, "axis": null}, "y": {"field": "v2", "type": "quantitative", "scale": {"domain": [-658, 1605], "range": [858, 12], "nice": false, "zero": false}, "axis": null}}},
    {"data": {"name": "arrows"}, "transform": [{"filter": "datum.box === 'blueshifted'"}], "mark": {"type": "point", "shape": "M0,0L-2,-0.75L-1.45,0L-2,0.75Z", "size": 484, "filled": true, "opacity": 1, "color": "#4848d6", "strokeWidth": 0, "angle": 9.3},
     "encoding": {"x": {"field": "x2", "type": "quantitative", "scale": {"domain": [-9.08, 9.08], "range": [1850, 1319], "nice": false, "zero": false}, "axis": null}, "y": {"field": "v2", "type": "quantitative", "scale": {"domain": [-658, 1605], "range": [858, 12], "nice": false, "zero": false}, "axis": null}}}
  ]
}
